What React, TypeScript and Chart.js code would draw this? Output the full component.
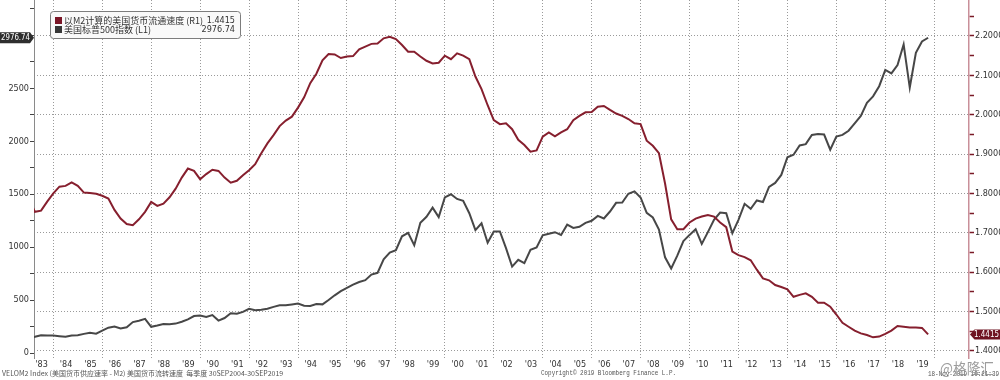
import React, { useEffect, useRef } from 'react';
import { Chart, registerables } from 'chart.js';

Chart.register(...registerables);

// ---------------- data (quarter-end values) ----------------
const FIRST_QUARTER_END = 1983.0; // 1982 Q4 (31 Dec 1982)
const QUARTER = 0.25;

// M2 money velocity (right axis)
const velocityM2 = [
  1.785,
  1.753, 1.756, 1.779, 1.800,
  1.817, 1.819, 1.828, 1.819,
  1.802, 1.801, 1.799, 1.794,
  1.787, 1.758, 1.736, 1.722,
  1.719, 1.734, 1.753, 1.778,
  1.768, 1.774, 1.790, 1.812,
  1.840, 1.863, 1.857, 1.836,
  1.849, 1.860, 1.857, 1.840,
  1.827, 1.832, 1.846, 1.859,
  1.874, 1.902, 1.927, 1.948,
  1.971, 1.985, 1.995, 2.018,
  2.044, 2.080, 2.104, 2.138,
  2.154, 2.153, 2.144, 2.148,
  2.149, 2.166, 2.173, 2.180,
  2.181, 2.194, 2.198, 2.192,
  2.177, 2.160, 2.160, 2.148,
  2.137, 2.130, 2.132, 2.150,
  2.141, 2.156, 2.150, 2.141,
  2.097, 2.065, 2.024, 1.986,
  1.976, 1.978, 1.963, 1.936,
  1.923, 1.906, 1.909, 1.944,
  1.955, 1.945, 1.955, 1.963,
  1.986, 1.997, 2.006, 2.007,
  2.020, 2.022, 2.012, 2.003,
  1.997, 1.989, 1.978, 1.976,
  1.934, 1.921, 1.902, 1.825,
  1.734, 1.709, 1.709, 1.726,
  1.736, 1.741, 1.745, 1.741,
  1.726, 1.714, 1.652, 1.643,
  1.638, 1.630, 1.606, 1.584,
  1.579, 1.567, 1.562, 1.556,
  1.537, 1.542, 1.546, 1.537,
  1.522, 1.522, 1.512, 1.492,
  1.471, 1.461, 1.451, 1.444,
  1.440, 1.434, 1.436, 1.443,
  1.451, 1.463, 1.461, 1.459,
  1.459, 1.458, 1.4415,
];

// S&P 500 index (left axis)
const sp500 = [
  140.64,
  152.96, 168.11, 166.07, 164.93,
  159.18, 153.18, 166.10, 167.24,
  180.66, 191.85, 182.08, 211.28,
  238.90, 250.84, 231.32, 242.17,
  291.70, 304.00, 321.83, 247.08,
  258.89, 273.50, 271.91, 277.72,
  294.87, 317.98, 349.15, 353.40,
  339.94, 358.02, 306.05, 330.22,
  375.22, 371.16, 387.86, 417.09,
  403.69, 408.14, 417.80, 435.71,
  451.67, 450.53, 458.93, 466.45,
  445.77, 444.27, 462.69, 459.27,
  500.71, 544.75, 584.41, 615.93,
  645.50, 670.63, 687.31, 740.74,
  757.12, 885.14, 947.28, 970.43,
  1101.75, 1133.84, 1017.01, 1229.23,
  1286.37, 1372.71, 1282.71, 1469.25,
  1498.58, 1454.60, 1436.51, 1320.28,
  1160.33, 1224.42, 1040.94, 1148.08,
  1147.39, 989.82, 815.28, 879.82,
  848.18, 974.50, 995.97, 1111.92,
  1126.21, 1140.84, 1114.58, 1211.92,
  1180.59, 1191.33, 1228.81, 1248.29,
  1294.83, 1270.20, 1335.85, 1418.30,
  1420.86, 1503.35, 1526.75, 1468.36,
  1322.70, 1280.00, 1166.36, 903.25,
  797.87, 919.32, 1057.08, 1115.10,
  1169.43, 1030.71, 1141.20, 1257.64,
  1325.83, 1320.64, 1131.42, 1257.60,
  1408.47, 1362.16, 1440.67, 1426.19,
  1569.19, 1606.28, 1681.55, 1848.36,
  1872.34, 1960.23, 1972.29, 2058.90,
  2067.89, 2063.11, 1920.03, 2043.94,
  2059.74, 2098.86, 2168.27, 2238.83,
  2362.72, 2423.41, 2519.36, 2673.61,
  2640.87, 2718.37, 2913.98, 2506.85,
  2834.40, 2941.76, 2976.74,
];

const yearLabels = [
  "'83", "'84", "'85", "'86", "'87", "'88", "'89", "'90", "'91", "'92",
  "'93", "'94", "'95", "'96", "'97", "'98", "'99", "'00", "'01", "'02",
  "'03", "'04", "'05", "'06", "'07", "'08", "'09", "'10", "'11", "'12",
  "'13", "'14", "'15", "'16", "'17", "'18", "'19",
];
const FIRST_LABEL_YEAR = 1983;
const leftTickLabels = [0, 500, 1000, 1500, 2000, 2500];
const rightTickLabels = [1.4, 1.5, 1.6, 1.7, 1.8, 1.9, 2.0, 2.1, 2.2];

const seriesNames = ['以M2计算的美国货币流通速度 (R1)', '美国标普500指数 (L1)'];
const footerLeft = 'VELOM2 Index (美国货币供应速率 - M2) 美国货币流转速度  每季度 30SEP2004-30SEP2019';
const footerCenter = 'Copyright\u00a9 2019 Bloomberg Finance L.P.';
const footerRight = '18-Nov-2019 10:21:39';
const watermark = '@格隆汇';

// ---------------- styles ----------------
const RED = '#861f2e';
const GRAY_LINE = '#474747';
const GRID = '#9a9a9a';
const NARROW = '"Liberation Sans Narrow", "DejaVu Sans Condensed", "Liberation Sans", sans-serif';
const CJK = '"Noto Sans CJK SC", "Noto Sans", sans-serif';

const X_MIN = 1983.211;
const X_MAX = 2021.421;
const YL_MIN = -47.2;
const YL_MAX = 3333.3;
const YR_MIN = 1.3815;
const YR_MAX = 2.2915;

const TRANSPARENT = 'rgba(0,0,0,0)';

function isGridYear(v: number | undefined) {
  if (v === undefined) return false;
  const r = Math.round(v);
  return Math.abs(v - r) < 1e-6 && r % 2 === 0;
}

const overlayPlugin = {
  id: 'overlay',
  afterDraw(chart: any) {
    const ctx: CanvasRenderingContext2D = chart.ctx;
    const yL = chart.scales.yL;
    const yR = chart.scales.yR;
    const lastSpx = sp500[sp500.length - 1];
    const lastVel = velocityM2[velocityM2.length - 1];

    ctx.save();
    // left value tag
    const yl = yL.getPixelForValue(lastSpx);
    ctx.fillStyle = '#2e2e2e';
    ctx.beginPath();
    ctx.moveTo(0, yl - 5.5);
    ctx.lineTo(30, yl - 5.5);
    ctx.lineTo(34, yl);
    ctx.lineTo(30, yl + 5.5);
    ctx.lineTo(0, yl + 5.5);
    ctx.closePath();
    ctx.fill();
    ctx.fillStyle = '#ffffff';
    ctx.font = '8.5px ' + NARROW;
    ctx.textAlign = 'center';
    ctx.textBaseline = 'middle';
    ctx.fillText(lastSpx.toFixed(2), 15.5, yl + 0.5, 29);

    // right value tag
    const yr = yR.getPixelForValue(lastVel);
    ctx.fillStyle = '#6e1422';
    ctx.beginPath();
    ctx.moveTo(1000, yr - 5);
    ctx.lineTo(974.5, yr - 5);
    ctx.lineTo(970, yr);
    ctx.lineTo(974.5, yr + 5);
    ctx.lineTo(1000, yr + 5);
    ctx.closePath();
    ctx.fill();
    ctx.fillStyle = '#ffffff';
    ctx.fillText(lastVel.toFixed(4), 986.5, yr + 0.5, 25);

    // legend box
    const bx = 50.5, by = 11.5, bw = 190, bh = 27, rad = 3;
    ctx.beginPath();
    ctx.moveTo(bx + rad, by);
    ctx.lineTo(bx + bw - rad, by);
    ctx.quadraticCurveTo(bx + bw, by, bx + bw, by + rad);
    ctx.lineTo(bx + bw, by + bh - rad);
    ctx.quadraticCurveTo(bx + bw, by + bh, bx + bw - rad, by + bh);
    ctx.lineTo(bx + rad, by + bh);
    ctx.quadraticCurveTo(bx, by + bh, bx, by + bh - rad);
    ctx.lineTo(bx, by + rad);
    ctx.quadraticCurveTo(bx, by, bx + rad, by);
    ctx.closePath();
    ctx.fillStyle = '#f9f9f9';
    ctx.fill();
    ctx.strokeStyle = '#7d7d7d';
    ctx.lineWidth = 1;
    ctx.stroke();

    const rows = [
      { name: seriesNames[0], value: lastVel.toFixed(4), color: '#7b1526', y: 20.5 },
      { name: seriesNames[1], value: lastSpx.toFixed(2), color: '#383838', y: 29.5 },
    ];
    ctx.textBaseline = 'middle';
    for (const r of rows) {
      ctx.fillStyle = r.color;
      ctx.fillRect(55, r.y - 3.5, 7, 7);
      ctx.fillStyle = '#333333';
      ctx.font = '9px ' + CJK;
      ctx.textAlign = 'left';
      ctx.fillText(r.name, 64, r.y, 146);
      ctx.font = '9px ' + NARROW;
      ctx.textAlign = 'right';
      ctx.fillText(r.value, 235, r.y);
    }

    // footer
    ctx.fillStyle = '#555555';
    ctx.textBaseline = 'middle';
    ctx.font = '7px ' + CJK;
    ctx.textAlign = 'left';
    ctx.fillText(footerLeft, 2, 373.5, 290);
    ctx.font = '7px "Liberation Mono", monospace';
    ctx.fillText(footerCenter, 541, 373.5, 135);
    ctx.textAlign = 'right';
    ctx.fillText(footerRight, 999, 374, 71);

    // watermark
    ctx.textAlign = 'left';
    ctx.font = '15px ' + CJK;
    ctx.fillStyle = 'rgba(140,140,140,0.85)';
    ctx.fillText(watermark, 940, 368, 54);
    ctx.restore();
  },
};

export default function App() {
  const ref = useRef<HTMLCanvasElement | null>(null);

  useEffect(() => {
    const canvas = ref.current;
    if (!canvas) return;
    const times = velocityM2.map((_, i) => FIRST_QUARTER_END + i * QUARTER);
    const redData = velocityM2.map((v, i) => ({ x: times[i], y: v }));
    const grayData = sp500.map((v, i) => ({ x: times[i], y: v }));

    const chart = new Chart(canvas, {
      type: 'line',
      data: {
        datasets: [
          {
            label: seriesNames[0],
            data: redData,
            yAxisID: 'yR',
            borderColor: RED,
            borderWidth: 2,
            pointRadius: 0,
            tension: 0,
          },
          {
            label: seriesNames[1],
            data: grayData,
            yAxisID: 'yL',
            borderColor: GRAY_LINE,
            borderWidth: 2,
            pointRadius: 0,
            tension: 0,
          },
        ],
      },
      options: {
        responsive: false,
        animation: false,
        devicePixelRatio: 1,
        layout: { padding: 0 },
        plugins: { legend: { display: false }, tooltip: { enabled: false } },
        scales: {
          x: {
            type: 'linear',
            min: X_MIN,
            max: X_MAX,
            bounds: 'data',
            afterBuildTicks: (s: any) => {
              const t: { value: number }[] = [];
              for (let y = 1984; y <= 2020; y += 2) t.push({ value: y });
              yearLabels.forEach((_, i) => t.push({ value: FIRST_LABEL_YEAR + i + 0.52 }));
              t.sort((a, b) => a.value - b.value);
              s.ticks = t;
            },
            afterFit: (s: any) => {
              s.height = 22;
              s.paddingLeft = 0;
              s.paddingRight = 0;
            },
            ticks: {
              autoSkip: false,
              maxRotation: 0,
              minRotation: 0,
              padding: 1,
              color: '#333333',
              font: { family: NARROW, size: 9 },
              callback: (v: any) => {
                const n = Number(v);
                if (isGridYear(n) || Math.abs(n - Math.round(n)) < 1e-6) return '';
                const idx = Math.round(n - 0.52) - FIRST_LABEL_YEAR;
                return yearLabels[idx] ?? '';
              },
            },
            grid: {
              color: (c: any) => (isGridYear(c.tick?.value) ? GRID : TRANSPARENT),
              drawTicks: false,
              lineWidth: 1,
            },
            border: { display: false, dash: [1, 2] },
          },
          yL: {
            type: 'linear',
            position: 'left',
            min: YL_MIN,
            max: YL_MAX,
            bounds: 'data',
            afterBuildTicks: (s: any) => {
              const t: { value: number }[] = [];
              for (let v = 0; v <= 3250; v += 250) t.push({ value: v });
              s.ticks = t;
            },
            afterFit: (s: any) => {
              s.width = 34;
              s.paddingTop = 0;
              s.paddingBottom = 0;
            },
            ticks: {
              autoSkip: false,
              padding: 1,
              color: '#333333',
              font: { family: NARROW, size: 9 },
              callback: (v: any) => (leftTickLabels.includes(Number(v)) ? String(v) : ''),
            },
            grid: {
              drawOnChartArea: false,
              tickLength: 4,
              tickColor: '#444444',
              tickWidth: 1,
            },
            border: { color: '#8a8a8a', width: 1 },
          },
          yR: {
            type: 'linear',
            position: 'right',
            min: YR_MIN,
            max: YR_MAX,
            bounds: 'data',
            afterBuildTicks: (s: any) => {
              const t: { value: number }[] = [];
              for (let k = 28; k <= 45; k++) t.push({ value: Math.round(k * 5) / 100 });
              s.ticks = t;
            },
            afterFit: (s: any) => {
              s.width = 31;
              s.paddingTop = 0;
              s.paddingBottom = 0;
            },
            ticks: {
              autoSkip: false,
              padding: 1,
              color: '#333333',
              font: { family: NARROW, size: 9 },
              callback: (v: any) => {
                const n = Number(v);
                return rightTickLabels.some((m) => Math.abs(m - n) < 1e-6) ? n.toFixed(4) : '';
              },
            },
            grid: {
              color: (c: any) => {
                const n = c.tick?.value;
                return n !== undefined && rightTickLabels.some((m) => Math.abs(m - n) < 1e-6) ? GRID : TRANSPARENT;
              },
              tickColor: '#7a1a27',
              tickLength: 5,
              tickWidth: 1.5,
              lineWidth: 1,
            },
            border: { color: '#c98f99', width: 1.5, dash: [1, 2] },
          },
        },
      },
      plugins: [overlayPlugin],
    } as any);

    return () => chart.destroy();
  }, []);

  return (
    <div style={{ position: 'fixed', left: 0, top: 0, width: 1000, height: 380, background: '#ffffff' }}>
      <canvas ref={ref} width={1000} height={380} style={{ display: 'block', width: 1000, height: 380 }} />
    </div>
  );
}
